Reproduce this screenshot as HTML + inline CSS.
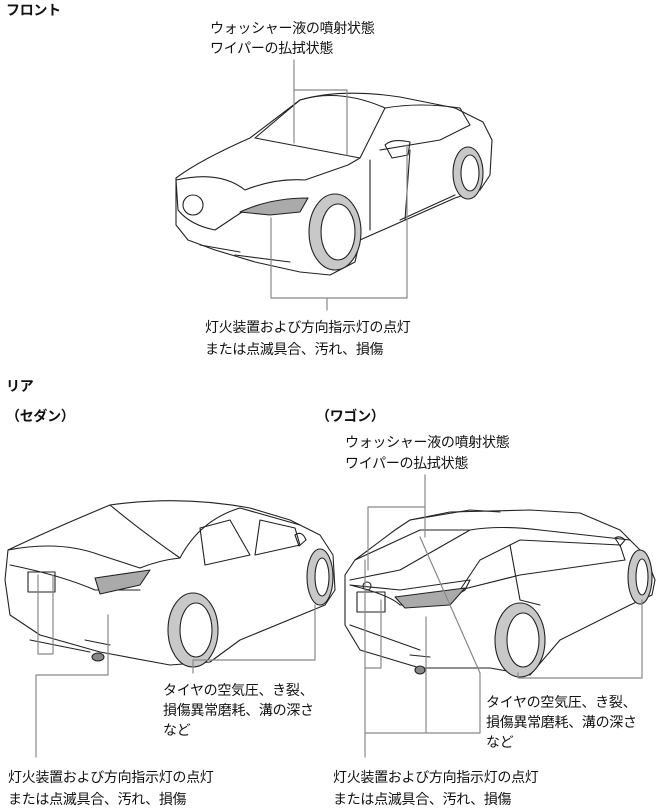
<!DOCTYPE html>
<html><head><meta charset="utf-8"><style>
html,body{margin:0;padding:0;background:#fff;}
body{width:664px;height:810px;position:relative;overflow:hidden;font-family:"Liberation Sans","Noto Sans CJK JP",sans-serif;color:#111;}
.t{position:absolute;font-size:14px;line-height:20px;white-space:nowrap;letter-spacing:-0.3px;}
.b{font-weight:bold;}
svg{position:absolute;left:0;top:0;}
</style></head><body>
<svg width="664" height="810" viewBox="0 0 664 810" fill="none" stroke="#222" stroke-width="1.1" stroke-linejoin="round" stroke-linecap="round">
<!-- FRONT CAR -->
<g>
<path d="M176,178 Q200,160 250,138 L300,100 Q340,88 400,97 L455,108 L483,122 L492,140 L490,175 L480,190 L455,198 L360,240 L355,262 L330,275 L300,272 L255,262 L215,250 L188,240 L176,225 Z" fill="#fff"/>
<path d="M255,138 L300,100 Q340,88 385,108 L360,158 Z"/>
<path d="M385,108 Q420,102 460,108 L470,125 L440,140 L380,150"/>
<path d="M176,180 Q220,170 245,190 Q275,178 305,180 L348,165 L360,158"/>
<path d="M176,180 L178,210 Q190,225 215,230 L245,210"/>
<ellipse cx="193" cy="205" rx="10" ry="10"/>
<path d="M240,212 Q270,198 308,198 L300,212 L270,215 Z" fill="#aaa"/>
<path d="M200,245 L240,252 M235,255 L290,262"/>
<path d="M370,160 L370,230 M410,150 L405,220 M400,220 L455,195"/>
<path d="M385,145 Q392,138 410,142 L408,155 L392,158 Z"/>
<ellipse cx="335" cy="232" rx="26" ry="38" fill="#c8c8c8"/>
<ellipse cx="338" cy="232" rx="17" ry="28" fill="#fff"/>
<ellipse cx="468" cy="173" rx="15" ry="26" fill="#c8c8c8"/>
<ellipse cx="470" cy="173" rx="9" ry="18" fill="#fff"/>
</g>
<g stroke="#888" stroke-width="1.2">
<path d="M294,60 L294,90 M294,90 L347,90 M294,90 L294,143 M347,90 L347,155"/>
<path d="M271,218 L271,298 L407,298 L407,145 M327,298 L327,310"/>
</g>

<!-- SEDAN REAR -->
<g>
<path d="M8,550 Q50,530 110,505 Q180,495 250,508 L290,520 L320,535 L333,555 L335,590 L325,605 L240,640 L210,662 L170,665 L100,652 L40,635 L10,615 L5,580 Z" fill="#fff"/>
<path d="M8,550 Q60,540 100,555 L140,568 Q160,560 180,558"/>
<path d="M110,505 Q140,530 180,558"/>
<path d="M180,558 Q200,520 240,508 L300,525"/>
<path d="M200,528 L230,520 L250,555 L205,565 Z"/>
<path d="M255,555 L260,520 L295,528 L300,545 Z"/>
<path d="M10,565 Q60,575 95,590 L140,590"/>
<path d="M95,578 L150,570 L140,585 L100,594 Z" fill="#aaa"/>
<rect x="28" y="572" width="27" height="20"/>
<path d="M30,640 L90,652 M85,640 L110,645"/>
<ellipse cx="98" cy="657" rx="6" ry="4" fill="#888"/>
<path d="M295,535 Q302,530 306,540 L299,546 Z"/>
<ellipse cx="193" cy="630" rx="25" ry="37" fill="#c8c8c8"/>
<ellipse cx="196" cy="630" rx="16" ry="27" fill="#fff"/>
<ellipse cx="320" cy="577" rx="13" ry="28" fill="#c8c8c8"/>
<ellipse cx="322" cy="577" rx="7" ry="19" fill="#fff"/>
</g>
<g stroke="#888" stroke-width="1.2">
<path d="M38,575 L38,654 L53,654 L53,575 M36,675 L36,757 M36,675 L108,675 L108,615"/>
<path d="M193,673 L193,660 L315,660 L315,605"/>
</g>

<!-- WAGON REAR -->
<g>
<path d="M345,575 L355,560 L395,530 L410,520 L450,512 L530,510 L580,513 L620,530 L645,555 L655,580 L652,595 L630,605 L560,640 L530,675 L490,668 L420,668 L360,650 L345,625 Z" fill="#fff"/>
<path d="M355,560 L420,530 L470,530 L400,570 L350,580"/>
<path d="M410,520 L470,510 L500,512 M470,530 Q500,525 540,530 L630,540"/>
<path d="M460,590 L480,560 L520,540 L620,545 L625,560 L520,575 Z"/>
<path d="M510,545 L520,600 L540,605"/>
<path d="M350,585 Q390,595 400,605 L440,605 L465,590 L470,580 L400,590 Z"/>
<path d="M395,597 L465,588 L450,605 L405,608 Z" fill="#aaa"/>
<rect x="357" y="592" width="28" height="20"/>
<ellipse cx="367" cy="586" rx="4" ry="4"/>
<path d="M350,625 L420,650 M410,655 L430,657"/>
<ellipse cx="420" cy="670" rx="5" ry="4" fill="#888"/>
<path d="M615,538 Q620,535 625,540 L620,546 Z"/>
<ellipse cx="520" cy="640" rx="25" ry="37" fill="#c8c8c8"/>
<ellipse cx="523" cy="640" rx="16" ry="27" fill="#fff"/>
<ellipse cx="640" cy="577" rx="12" ry="27" fill="#c8c8c8"/>
<ellipse cx="642" cy="577" rx="6" ry="18" fill="#fff"/>
</g>
<g stroke="#888" stroke-width="1.2">
<path d="M425,475 L425,537 M368,507 L425,507 M368,507 L368,570"/>
<path d="M381,600 L381,668 L365,668 M365,560 L365,757 M365,733 L480,733 L480,673 M426,617 L426,733"/>
<path d="M420,537 L480,673"/>
<path d="M518,678 L518,673 M518,678 L642,678 L642,600"/>
</g>
</svg>

<div class="t b" style="left:6px;top:0px;">フロント</div>
<div class="t" style="left:210px;top:18px;">ウォッシャー液の噴射状態</div>
<div class="t" style="left:210px;top:38px;">ワイパーの払拭状態</div>
<div class="t" style="left:205px;top:317px;">灯火装置および方向指示灯の点灯</div>
<div class="t" style="left:205px;top:339px;">または点滅具合、汚れ、損傷</div>
<div class="t b" style="left:6px;top:376px;">リア</div>
<div class="t b" style="left:6px;top:406px;">（セダン）</div>
<div class="t b" style="left:316px;top:406px;">（ワゴン）</div>
<div class="t" style="left:345px;top:432px;">ウォッシャー液の噴射状態</div>
<div class="t" style="left:345px;top:453px;">ワイパーの払拭状態</div>
<div class="t" style="left:163px;top:680px;">タイヤの空気圧、き裂、</div>
<div class="t" style="left:163px;top:700px;">損傷異常磨耗、溝の深さ</div>
<div class="t" style="left:163px;top:720px;">など</div>
<div class="t" style="left:486px;top:692px;">タイヤの空気圧、き裂、</div>
<div class="t" style="left:486px;top:712px;">損傷異常磨耗、溝の深さ</div>
<div class="t" style="left:486px;top:732px;">など</div>
<div class="t" style="left:8px;top:767px;">灯火装置および方向指示灯の点灯</div>
<div class="t" style="left:8px;top:789px;">または点滅具合、汚れ、損傷</div>
<div class="t" style="left:333px;top:767px;">灯火装置および方向指示灯の点灯</div>
<div class="t" style="left:333px;top:789px;">または点滅具合、汚れ、損傷</div>
</body></html>
